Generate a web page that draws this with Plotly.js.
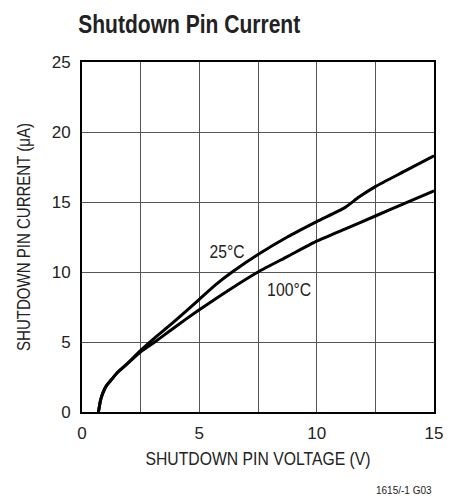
<!DOCTYPE html>
<html>
<head>
<meta charset="utf-8">
<script src="https://cdn.plot.ly/plotly-3.0.1.min.js"></script>
<style>html,body{margin:0;padding:0;background:#fff;}#chart{width:458px;height:496px;}</style>
</head>
<body>
<div id="chart"></div>
<script>
const volt25 = [0.7, 0.74, 0.8, 0.9, 1.05, 1.25, 1.5, 1.9, 2.5, 3.1, 3.75, 4.4, 5, 5.7, 6.4, 7.5, 8.75, 10, 11.2, 11.8, 12.5, 13.75, 15];
const curr25 = [0, 0.4, 0.9, 1.4, 1.9, 2.3, 2.8, 3.4, 4.4, 5.3, 6.2, 7.15, 8.05, 9.1, 10.0, 11.25, 12.5, 13.6, 14.6, 15.35, 16.1, 17.2, 18.3];
const volt100 = [0.7, 0.74, 0.8, 0.9, 1.05, 1.25, 1.5, 1.9, 2.5, 3.1, 3.75, 4.4, 5, 6.25, 7.5, 8.75, 10, 11.25, 12.5, 13.75, 15];
const curr100 = [0, 0.4, 0.9, 1.4, 1.9, 2.3, 2.8, 3.4, 4.3, 5.0, 5.8, 6.6, 7.3, 8.7, 10.0, 11.1, 12.2, 13.1, 14.0, 14.9, 15.8];
const xTickVals = [0, 2.5, 5, 7.5, 10, 12.5, 15];
const xTickText = ['0', '', '5', '', '10', '', '15'];
const yTickVals = [0, 5, 10, 15, 20, 25];
const yTickText = ['0', '5', '10', '15', '20', '25'];
const seriesLabels = ['25°C', '100°C'];

const FONT = '"Liberation Sans", Arial, sans-serif';
const INK = '#222';

const traces = [
  {x: volt25, y: curr25, mode: 'lines', line: {color: '#000', width: 3, shape: 'spline', smoothing: 0.6}, name: seriesLabels[0], hoverinfo: 'none'},
  {x: volt100, y: curr100, mode: 'lines', line: {color: '#000', width: 3, shape: 'spline', smoothing: 0.6}, name: seriesLabels[1], hoverinfo: 'none'}
];

const layout = {
  width: 458, height: 496,
  margin: {l: 82, r: 24, t: 62, b: 84},
  paper_bgcolor: '#fff', plot_bgcolor: '#fff',
  showlegend: false,
  font: {family: FONT, color: INK, size: 16},
  xaxis: {
    range: [0, 15], tickvals: xTickVals, ticktext: xTickText,
    showgrid: true, gridcolor: '#555', gridwidth: 1,
    zeroline: false, showline: true, linecolor: '#000', linewidth: 2, mirror: true,
    ticks: '', ticklabelstandoff: 5, tickfont: {size: 17, family: FONT, color: INK},
    title: {text: 'SHUTDOWN PIN VOLTAGE (V)', font: {size: 19, family: FONT, color: INK}, standoff: 9}
  },
  yaxis: {
    range: [0, 25], tickvals: yTickVals, ticktext: yTickText,
    showgrid: true, gridcolor: '#555', gridwidth: 1,
    zeroline: false, showline: true, linecolor: '#000', linewidth: 2, mirror: true,
    ticks: '', ticklabelstandoff: 6, tickfont: {size: 17, family: FONT, color: INK},
    title: {text: 'SHUTDOWN PIN CURRENT (μA)', font: {size: 19, family: FONT, color: INK}, standoff: 16}
  },
  annotations: [
    {text: 'Shutdown Pin Current', xref: 'paper', yref: 'paper', x: 0.304, y: 1, yshift: 38, xanchor: 'center', yanchor: 'middle', showarrow: false, font: {size: 26, family: FONT, color: INK, weight: 'bold'}},
    {text: seriesLabels[0], xref: 'x', yref: 'y', x: 6.17, y: 11.4, showarrow: false, font: {size: 18, family: FONT, color: INK}},
    {text: seriesLabels[1], xref: 'x', yref: 'y', x: 8.81, y: 8.7, showarrow: false, font: {size: 18, family: FONT, color: INK}},
    {text: '1615/-1 G03', xref: 'paper', yref: 'paper', x: 1, y: 0, yshift: -78, xanchor: 'right', yanchor: 'middle', showarrow: false, font: {size: 10, family: FONT, color: INK}}
  ]
};

function condense(el, len) {
  if (!el) return;
  el.setAttribute('textLength', len);
  el.setAttribute('lengthAdjust', 'spacingAndGlyphs');
}

Plotly.newPlot('chart', traces, layout, {staticPlot: true, displayModeBar: false}).then(function (gd) {
  const ann = gd.querySelectorAll('.annotation-text');
  condense(ann[0], 222);
  condense(ann[1], 35);
  condense(ann[2], 44);
  condense(gd.querySelector('.xtitle'), 225);
  condense(gd.querySelector('.ytitle'), 228);
});
</script>
</body>
</html>
